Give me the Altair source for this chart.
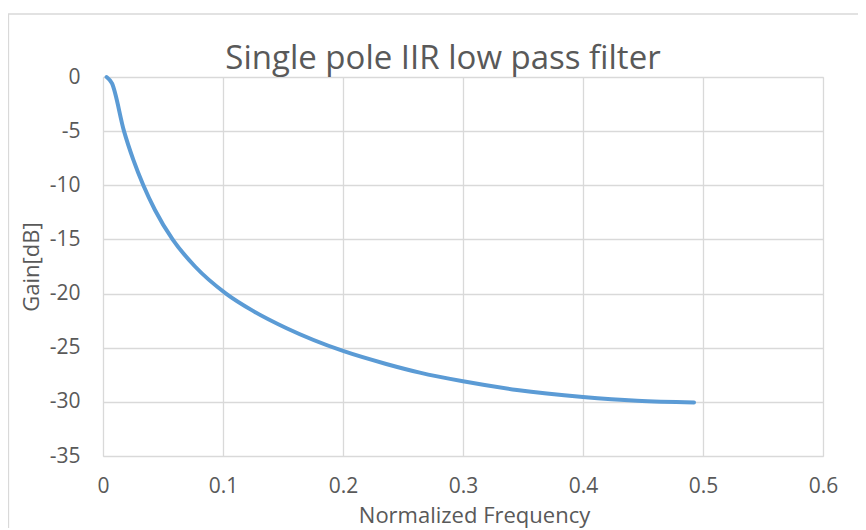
import altair as alt
import pandas as pd

# values
freq = [0.003, 0.0075, 0.0175, 0.0253, 0.0336, 0.0433, 0.058, 0.0767, 0.1025,
        0.125, 0.153, 0.2, 0.236, 0.264, 0.3, 0.345, 0.4, 0.445, 0.4925]
gain_db = [0.0, -0.6, -5.0, -7.66, -10.0, -12.28, -15.0, -17.5, -20.0,
           -21.6, -23.2, -25.3, -26.5, -27.3, -28.1, -28.9, -29.55, -29.9, -30.05]
x_ticks = [0, 0.1, 0.2, 0.3, 0.4, 0.5, 0.6]
y_ticks = [0, -5, -10, -15, -20, -25, -30, -35]
chart_title = ["Single pole IIR low pass filter"]

df = pd.DataFrame({"freq": freq, "gain": gain_db})

FONT = "Open Sans"
TXT = "#595959"
GRID = "#D9D9D9"

x_axis = alt.Axis(values=x_ticks, grid=True, gridColor=GRID, gridWidth=1.3,
                  domain=False, ticks=False, tickSize=0,
                  labelFont=FONT, labelFontSize=21, labelColor=TXT,
                  labelPadding=30, labelBaseline="middle", labelFlush=False,
                  labelExpr="'' + datum.value",
                  title="Normalized Frequency", titleFont=FONT, titleFontSize=22,
                  titleFontWeight="normal", titleColor=TXT,
                  titleX=371, titleY=66, titleBaseline="alphabetic", titleAlign="center")
y_axis = alt.Axis(values=y_ticks, grid=True, gridColor=GRID, gridWidth=1.3,
                  domain=False, ticks=False, tickSize=0,
                  labelFont=FONT, labelFontSize=21, labelColor=TXT,
                  labelPadding=23, labelBaseline="middle", labelFlush=False,
                  labelExpr="'' + datum.value",
                  title="Gain[dB]", titleFont=FONT, titleFontSize=22,
                  titleFontWeight="normal", titleColor=TXT,
                  titleX=-72, titleY=189.5, titleAngle=-90,
                  titleBaseline="middle", titleAlign="center")

line = alt.Chart(df).mark_line(color="#5B9BD5", strokeWidth=4,
                               interpolate="monotone", strokeCap="round",
                               strokeJoin="round").encode(
    x=alt.X("freq:Q", scale=alt.Scale(domain=[0, 0.6], nice=False, zero=False), axis=x_axis),
    y=alt.Y("gain:Q", scale=alt.Scale(domain=[-35, 0], nice=False, zero=False), axis=y_axis),
)

title_df = pd.DataFrame({"t": chart_title})
title = alt.Chart(title_df).mark_text(font=FONT, fontSize=33, color=TXT,
                                      align="center", baseline="alphabetic").encode(
    text="t:N", x=alt.value(340), y=alt.value(-8))

frame_df = pd.DataFrame({"k": [0]})
frame_left = alt.Chart(frame_df).mark_rule(color=GRID, strokeWidth=1.3).encode(
    x=alt.value(-94.5), y=alt.value(-63), y2=alt.value(480))
frame_top = alt.Chart(frame_df).mark_rule(color=GRID, strokeWidth=1.3).encode(
    x=alt.value(-95), x2=alt.value(760), y=alt.value(-63))

chart = alt.layer(frame_left, frame_top, title, line).properties(
    width=720, height=379,
    autosize=alt.AutoSizeParams(type="none"),
    padding={"left": 95, "top": 69, "right": 35, "bottom": 72},
).configure_view(stroke=None).configure(background="white")

chart.save("out.html", embed_options={"renderer": "svg", "actions": False})
